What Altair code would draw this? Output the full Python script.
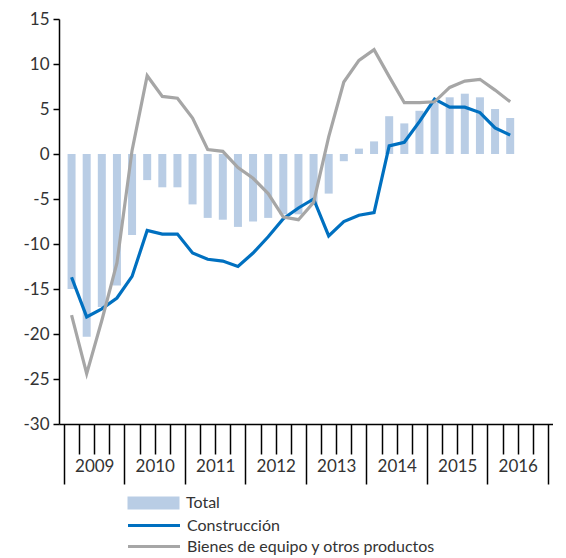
import altair as alt
import pandas as pd

quarters = [f"{y}T{q}" for y in range(2009, 2017) for q in range(1, 5)][:30]

total = [-15.0, -20.3, -17.0, -14.6, -9.0, -2.9, -3.7, -3.7, -5.6, -7.1,
         -7.3, -8.1, -7.5, -7.1, -6.7, -6.7, -5.6, -4.4, -0.8, 0.6,
         1.4, 4.2, 3.4, 4.8, 5.7, 6.3, 6.7, 6.3, 5.0, 4.0]
construccion = [-13.7, -18.1, -17.2, -16.0, -13.6, -8.5, -8.9, -8.9, -11.0, -11.7,
                -11.9, -12.5, -11.0, -9.2, -7.2, -6.0, -5.0, -9.1, -7.5, -6.8,
                -6.5, 0.9, 1.3, 3.6, 6.1, 5.2, 5.2, 4.6, 2.9, 2.1]
bienes = [-17.9, -24.4, -18.5, -12.1, 0.4, 8.7, 6.4, 6.2, 4.0, 0.5,
          0.3, -1.5, -2.7, -4.4, -7.0, -7.3, -5.4, 1.9, 8.0, 10.4,
          11.6, 8.6, 5.7, 5.7, 5.8, 7.4, 8.1, 8.3, 7.1, 5.8]

y_ticks = [-30, -25, -20, -15, -10, -5, 0, 5, 10, 15]
x_ticks = list(range(0, 33))

FONT = "Lato"
TXT = "#333333"

bars_df = pd.DataFrame({"pos": [i + 0.5 for i in range(len(total))],
                        "valor": total, "serie": "Total"})
lines_df = pd.concat([
    pd.DataFrame({"pos": [i + 0.5 for i in range(len(construccion))],
                  "valor": construccion, "serie": "Construcción"}),
    pd.DataFrame({"pos": [i + 0.5 for i in range(len(bienes))],
                  "valor": bienes, "serie": "Bienes de equipo y otros productos"}),
])

x_enc = alt.X("pos:Q", scale=alt.Scale(domain=[0, 32], nice=False, zero=False),
              axis=alt.Axis(values=x_ticks, title=None, grid=False,
                            domainColor="black", domainWidth=1.5,
                            tickColor="black", tickWidth=1.5,
                            tickSize={"condition": {"test": "datum.value % 4 === 0", "value": 60}, "value": 30},
                            labelExpr="datum.value % 4 === 2 ? toString(2009 + floor(datum.value / 4)) : ''",
                            labelOverlap=False, labelFont=FONT, labelFontSize=17,
                            labelColor=TXT, labelPadding=4, labelBound=False, labelFlush=False))
y_enc = alt.Y("valor:Q", scale=alt.Scale(domain=[-30, 15], nice=False),
              axis=alt.Axis(values=y_ticks, title=None, grid=False,
                            domainColor="black", domainWidth=1.5,
                            tickColor="black", tickWidth=1.5, tickSize=6,
                            labelExpr="toString(datum.value)",
                            labelFont=FONT, labelFontSize=17, labelColor=TXT,
                            labelPadding=4))

bars = alt.Chart(bars_df).mark_bar(size=8).encode(
    x=x_enc, y=y_enc,
    fill=alt.Fill("serie:N", scale=alt.Scale(domain=["Total"], range=["#B9CDE5"]),
                  legend=alt.Legend(title=None, orient="none", legendX=67, legendY=476,
                                    symbolType="M-1,-1H7V1H-1Z", symbolSize=169,
                                    symbolStrokeWidth=0, symbolOpacity=1,
                                    labelFont=FONT, labelFontSize=16, labelColor=TXT,
                                    labelOffset=44, labelLimit=500))
)

lines = alt.Chart(lines_df).mark_line(strokeWidth=3.2).encode(
    x=x_enc, y=y_enc,
    stroke=alt.Stroke("serie:N",
                      scale=alt.Scale(domain=["Construcción", "Bienes de equipo y otros productos"],
                                      range=["#0070C0", "#A6A6A6"]),
                      legend=alt.Legend(title=None, orient="none", legendX=67, legendY=498,
                                        symbolType="M-1,0H7", symbolSize=169,
                                        symbolStrokeWidth=3.2, rowPadding=4,
                                        labelFont=FONT, labelFontSize=16, labelColor=TXT,
                                        labelOffset=44, labelLimit=500)),
    detail="serie:N"
)

chart = alt.layer(bars, lines).resolve_legend(fill="independent", stroke="independent").properties(
    width=494, height=405, padding={"left": 14, "top": 2, "right": 0, "bottom": 0}
).configure_view(stroke=None)

chart.save("out.html", embed_options={"renderer": "svg", "actions": False})
